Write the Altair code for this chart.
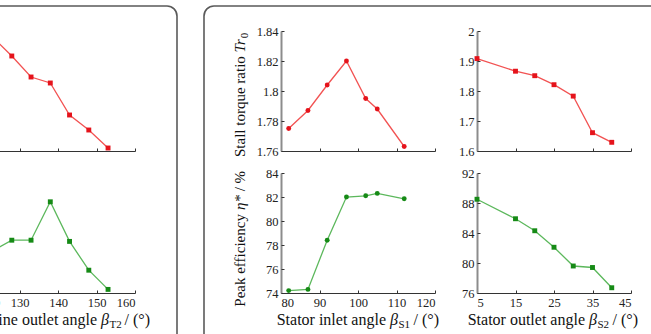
import altair as alt
import pandas as pd

FONT = "Liberation Serif"

# Turbine outlet angle sweep (left column)
t2_angle = [123, 128, 133, 138, 143, 148, 153]
t2_stall = [2.17, 2.075, 1.97, 1.94, 1.78, 1.705, 1.615]
t2_eff = [77.5, 78.4, 78.4, 81.6, 78.3, 75.9, 74.3]

# Stator inlet angle sweep (middle column)
s1_angle = [82, 87, 92, 97, 102, 105, 112]
s1_stall = [1.775, 1.787, 1.804, 1.820, 1.795, 1.788, 1.763]
s1_eff = [74.2, 74.3, 78.4, 82.0, 82.1, 82.3, 81.85]

# Stator outlet angle sweep (right column)
s2_angle = [5, 15, 20, 25, 30, 35, 40]
s2_stall = [1.908, 1.866, 1.851, 1.821, 1.783, 1.661, 1.629]
s2_eff = [88.5, 85.9, 84.3, 82.1, 79.6, 79.4, 76.7]

# Axis tick values
t2_ticks = [120, 130, 140, 150, 160]
s1_ticks = [80, 90, 100, 110, 120]
s2_ticks = [5, 15, 25, 35, 45]
t2_stall_ticks = [1.6, 1.8, 2.0, 2.2]
t2_eff_ticks = [74, 76, 78, 80, 82, 84]
s1_stall_ticks = [1.76, 1.78, 1.80, 1.82, 1.84]
s1_eff_ticks = [74, 76, 78, 80, 82, 84]
s2_stall_ticks = [1.6, 1.7, 1.8, 1.9, 2.0]
s2_eff_ticks = [76, 80, 84, 88, 92]

W, H = 154, 120
GAP = 42          # horizontal gap between plot areas
SPACER_W = 62     # blank column between the two framed panels
RED_LINE, RED_PT = "#f25252", "#e5131b"
GREEN_LINE, GREEN_PT = "#5cb85c", "#168a16"
TEXT = "#111111"
ONE = pd.DataFrame({"k": [0]})


def piece(txt, x, y, size, italic=False, align="left", angle=0):
    """One run of title text (lets italics and subscripts sit inline)."""
    return alt.Chart(ONE).mark_text(
        text=txt, align=align, baseline="alphabetic", font=FONT,
        fontSize=size, fontStyle="italic" if italic else "normal",
        angle=angle, color=TEXT,
    ).encode(x=alt.value(x), y=alt.value(y))


def x_title(main, sub, beta_x, y=152):
    """'<main> β_sub / (°)' below a bottom-row plot."""
    sub_w = 12
    return [
        piece(main, beta_x - 4, y, 16, align="right"),
        piece("β", beta_x, y, 16, italic=True),
        piece(sub, beta_x + 8.5, y + 3, 11),
        piece("/ (°)", beta_x + 8.5 + sub_w + 3, y, 16),
    ]


def frame(x0, x1, y0, y1):
    return alt.Chart(ONE).mark_rect(
        fillOpacity=0, stroke="#5a5a5a", strokeWidth=1.6, cornerRadius=10
    ).encode(x=alt.value(x0), x2=alt.value(x1), y=alt.value(y0), y2=alt.value(y1))


def spacer(extra=()):
    blank = alt.Chart(ONE).mark_point(opacity=0).encode(
        x=alt.value(0), y=alt.value(0))
    return alt.layer(blank, *extra).properties(width=SPACER_W, height=H)


def plot(xs, ys, xdom, xticks, ydom, yticks, yfmt, line_c, pt_c, shape,
         xlabels, ylabels=True, extra=()):
    df = pd.DataFrame({"angle": xs, "value": ys})
    xsc = alt.Scale(domain=xdom, nice=False, zero=False)
    ysc = alt.Scale(domain=ydom, nice=False, zero=False)
    label_style = dict(labelFont=FONT, labelFontSize=12.5, labelColor="#222222",
                       labelPadding=3, grid=False, title=None, ticks=False)
    main_x = alt.Axis(values=xticks, labels=xlabels, domainColor="#333333",
                      domainWidth=1, **label_style)
    main_y = alt.Axis(values=yticks, format=yfmt, labels=ylabels,
                      domainColor="#8c8c8c", domainWidth=2, **label_style)
    # inward-pointing tick marks drawn by opposite-side axes moved onto the frame
    tick_x = alt.Axis(orient="top", offset=-H, values=xticks, labels=False,
                      domain=False, ticks=True, tickSize=3, tickColor="#333333",
                      grid=False, title=None)
    tick_y = alt.Axis(orient="right", offset=-W, values=yticks, labels=False,
                      domain=False, ticks=True, tickSize=3, tickColor="#333333",
                      grid=False, title=None)
    line = alt.Chart(df).mark_line(color=line_c, strokeWidth=1.3).encode(
        x=alt.X("angle:Q", scale=xsc, axis=main_x),
        y=alt.Y("value:Q", scale=ysc, axis=main_y),
    )
    pts = alt.Chart(df).mark_point(
        shape=shape, filled=True, size=24, color=pt_c, opacity=1
    ).encode(
        x=alt.X("angle:Q", scale=xsc, axis=tick_x),
        y=alt.Y("value:Q", scale=ysc, axis=tick_y),
    )
    return (
        alt.layer(line, pts, *extra)
        .resolve_axis(x="independent", y="independent")
        .properties(width=W, height=H)
    )


# Left column: turbine outlet angle (its y-axis lies beyond the left edge)
left_top = plot(t2_angle, t2_stall, [120, 160], t2_ticks, [1.6, 2.2],
                t2_stall_ticks, ".1~f", RED_LINE, RED_PT, "square", False,
                ylabels=False)
left_bot = plot(t2_angle, t2_eff, [120, 160], t2_ticks, [74, 84],
                t2_eff_ticks, "d", GREEN_LINE, GREEN_PT, "square", True,
                ylabels=False,
                extra=x_title("Turbine outlet angle", "T2", 120))

# Blank column between the panels; it carries the two rounded panel frames
gap_top = spacer([frame(-700, 0, -25, 600), frame(27, 1000, -25, 600)])
gap_bot = spacer()

# Middle column: stator inlet angle (with the y-axis titles)
mid_top = plot(s1_angle, s1_stall, [80, 120], s1_ticks, [1.76, 1.84],
               s1_stall_ticks, ".2~f", RED_LINE, RED_PT, "circle", False,
               extra=[
                   piece("Stall torque ratio", -36, 126, 15, angle=270),
                   piece("Tr", -36, 21.5, 15, italic=True, angle=270),
                   piece("0", -33, 7.3, 11, angle=270),
               ])
mid_bot = plot(s1_angle, s1_eff, [80, 120], s1_ticks, [74, 84],
               s1_eff_ticks, "d", GREEN_LINE, GREEN_PT, "circle", True,
               extra=x_title("Stator inlet angle", "S1", 109) + [
                   piece("Peak efficiency", -36, 133.7, 15, angle=270),
                   piece("η*", -36, 37, 15, italic=True, angle=270),
                   piece("/ %", -36, 18.3, 15, angle=270),
               ])

# Right column: stator outlet angle
right_top = plot(s2_angle, s2_stall, [5, 45], s2_ticks, [1.6, 2.0],
                 s2_stall_ticks, ".1~f", RED_LINE, RED_PT, "square", False)
right_bot = plot(s2_angle, s2_eff, [5, 45], s2_ticks, [76, 92],
                 s2_eff_ticks, "d", GREEN_LINE, GREEN_PT, "square", True,
                 extra=x_title("Stator outlet angle", "S2", 112))

chart = (
    alt.concat(
        left_top, gap_top, mid_top, right_top,
        left_bot, gap_bot, mid_bot, right_bot,
        columns=4,
        spacing={"row": 22, "column": GAP},
        bounds="flush",
    )
    .properties(
        padding={"left": -19, "top": 31, "right": 670, "bottom": 303},
        autosize=alt.AutoSizeParams(type="none"),
        background="white",
    )
    .configure_view(strokeWidth=0)
)

chart.save("out.html", embed_options={"renderer": "svg", "actions": False})
